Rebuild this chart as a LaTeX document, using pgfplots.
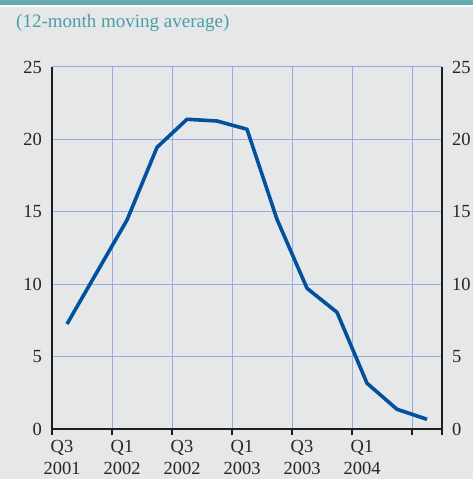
\documentclass[border=0pt]{standalone}
\usepackage{fontspec}
\setmainfont{Liberation Serif}
\usepackage{pgfplots}
\pgfplotsset{compat=1.18}
\definecolor{bg}{RGB}{230,231,232}
\definecolor{teal1}{RGB}{102,170,178}
\definecolor{subt}{RGB}{74,158,166}
\definecolor{gridc}{RGB}{152,170,220}
\definecolor{linec}{RGB}{0,82,158}
\definecolor{axc}{RGB}{30,30,30}
\begin{document}
\begin{tikzpicture}
\fill[bg] (0,0) rectangle (473bp,479bp);
\fill[teal1] (0,474bp) rectangle (473bp,479bp);
\fill[white] (0,472.3bp) rectangle (473bp,474bp);
\node[anchor=base west, inner sep=0pt, text=subt, font=\fontsize{19bp}{23bp}\selectfont] at (16bp,451bp) {(12-month moving average)};
\begin{axis}[
  at={(52bp,50bp)}, anchor=south west,
  scale only axis, width=390bp, height=362bp,
  xmin=0, xmax=13, ymin=0, ymax=25,
  axis x line*=bottom, axis y line*=left,
  axis line style={-, axc, line width=1.2bp},
  xtick={0,2,4,6,8,10,12,13},
  xticklabels={{Q3\\2001},{Q1\\2002},{Q3\\2002},{Q1\\2003},{Q3\\2003},{Q1\\2004},{},{}},
  ytick={0,5,10,15,20,25},
  grid=major,
  major grid style={gridc, line width=1bp},
  tick align=outside,
  major tick length=6bp,
  x tick style={axc, line width=1.2bp},
  y tick style={draw=none},
  /pgf/number format/assume math mode=true,
  tick label style={font=\fontsize{18.5bp}{22bp}\selectfont, text=black!85},
  xticklabel style={align=center, anchor=north, xshift=10bp, inner sep=0pt, yshift=-5.5bp},
  yticklabel style={anchor=east, inner sep=0pt, xshift=-4bp},
]
\addplot[linec, line width=3.6bp, line join=round] coordinates {
  (0.5,7.25) (2.5,14.43) (3.5,19.45) (4.5,21.39) (5.5,21.27) (6.5,20.70)
  (7.5,14.48) (8.5,9.72) (9.5,8.06) (10.5,3.16) (11.5,1.36) (12.5,0.67)
};
\end{axis}
\begin{axis}[
  at={(52bp,50bp)}, anchor=south west,
  scale only axis, width=390bp, height=362bp,
  xmin=0, xmax=13, ymin=0, ymax=25,
  axis x line=none, axis y line*=right,
  axis line style={-, axc, line width=1.2bp},
  ytick={0,5,10,15,20,25},
  tick align=outside,
  major tick length=6bp,
  y tick style={draw=none},
  /pgf/number format/assume math mode=true,
  tick label style={font=\fontsize{18.5bp}{22bp}\selectfont, text=black!85},
  yticklabel style={anchor=west, inner sep=0pt, xshift=4bp},
]
\end{axis}
\pgfresetboundingbox
\useasboundingbox (0,0) rectangle (473bp,479bp);
\end{tikzpicture}
\end{document}
